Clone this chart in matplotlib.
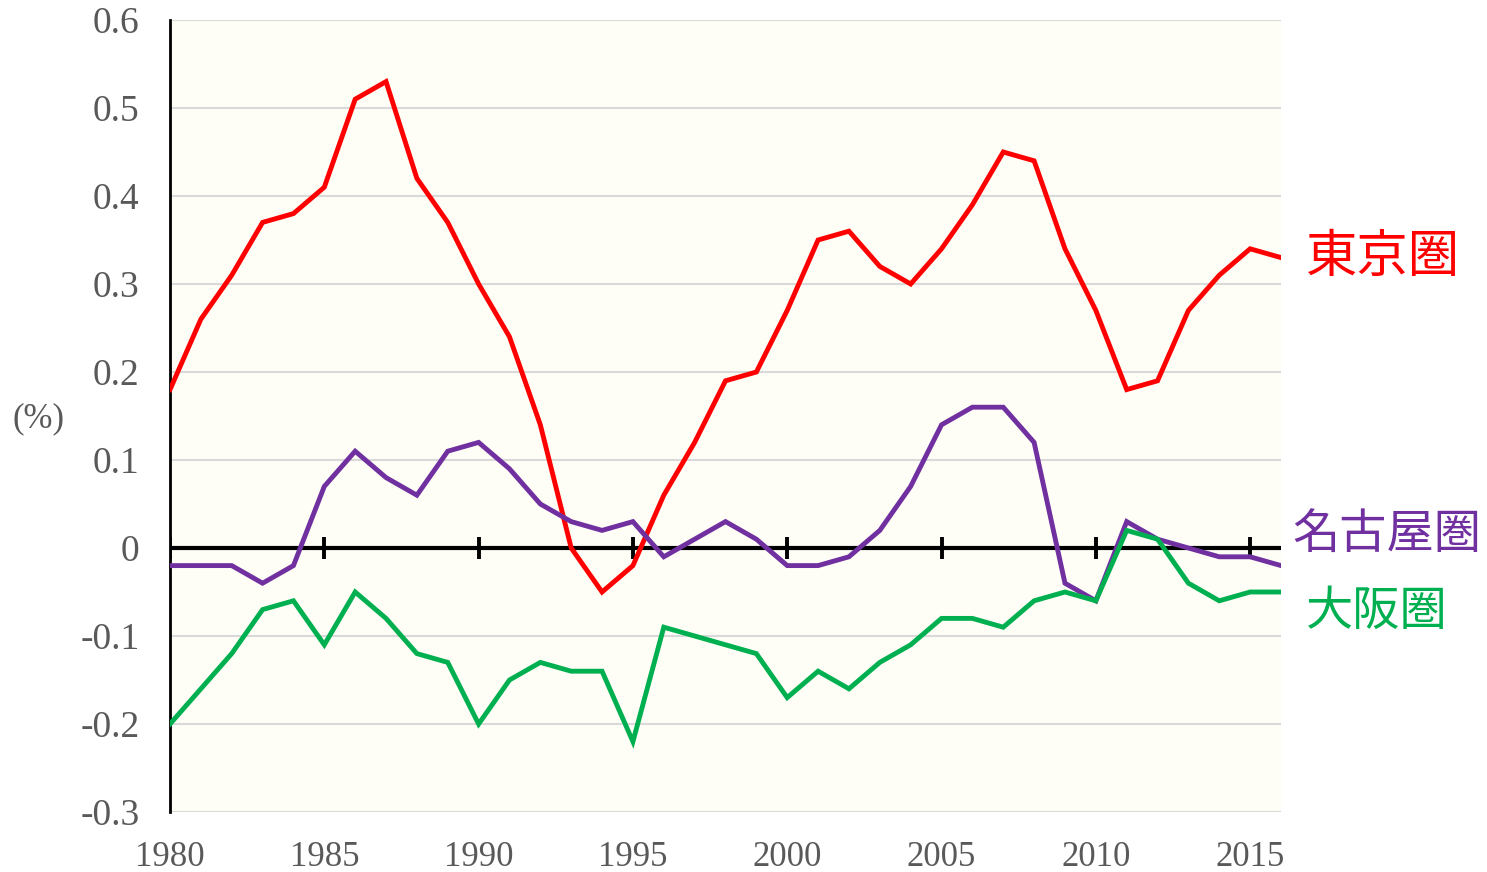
import matplotlib
matplotlib.use("Agg")
import matplotlib.pyplot as plt

# data
years = list(range(1980, 2017))
tokyo = [0.18, 0.26, 0.31, 0.37, 0.38, 0.41, 0.51, 0.53, 0.42, 0.37,
         0.30, 0.24, 0.14, 0.00, -0.05, -0.02, 0.06, 0.12, 0.19, 0.20,
         0.27, 0.35, 0.36, 0.32, 0.30, 0.34, 0.39, 0.45, 0.44, 0.34,
         0.27, 0.18, 0.19, 0.27, 0.31, 0.34, 0.33]
nagoya = [-0.02, -0.02, -0.02, -0.04, -0.02, 0.07, 0.11, 0.08, 0.06, 0.11,
          0.12, 0.09, 0.05, 0.03, 0.02, 0.03, -0.01, 0.01, 0.03, 0.01,
          -0.02, -0.02, -0.01, 0.02, 0.07, 0.14, 0.16, 0.16, 0.12, -0.04,
          -0.06, 0.03, 0.01, 0.00, -0.01, -0.01, -0.02]
osaka = [-0.20, -0.16, -0.12, -0.07, -0.06, -0.11, -0.05, -0.08, -0.12, -0.13,
         -0.20, -0.15, -0.13, -0.14, -0.14, -0.22, -0.09, -0.10, -0.11, -0.12,
         -0.17, -0.14, -0.16, -0.13, -0.11, -0.08, -0.08, -0.09, -0.06, -0.05,
         -0.06, 0.02, 0.01, -0.04, -0.06, -0.05, -0.05]

series_names = ["東京圏", "名古屋圏", "大阪圏"]
colors = ["#FF0000", "#7030A0", "#00B050"]

xticks = [1980, 1985, 1990, 1995, 2000, 2005, 2010, 2015]
yticks = [-0.3, -0.2, -0.1, 0, 0.1, 0.2, 0.3, 0.4, 0.5, 0.6]
ytick_labels = ["-0.3", "-0.2", "-0.1", "0", "0.1", "0.2", "0.3", "0.4", "0.5", "0.6"]

plt.rcParams['font.family'] = ['Liberation Serif', 'DejaVu Serif']

fig = plt.figure(figsize=(14.87, 8.72), dpi=100)
ax = fig.add_axes([170/1487, 60/872, 1111/1487, 792/872])
ax.set_facecolor("#FEFEF6")

ax.set_xlim(1980, 2016)
ax.set_ylim(-0.3, 0.6)

# grid
ax.set_yticks(yticks)
ax.set_yticklabels(ytick_labels)
ax.yaxis.grid(True, color="#D9D9D9", lw=1.5)
ax.set_axisbelow(True)

ax.set_xticks(xticks)
ax.set_xticklabels([str(x) for x in xticks])
ax.tick_params(axis='both', length=0, labelcolor="#595959")
ax.tick_params(axis='y', pad=22, labelsize=27)
ax.tick_params(axis='x', pad=21, labelsize=25)

for s in ["top", "right", "bottom"]:
    ax.spines[s].set_visible(False)
ax.spines["left"].set_linewidth(2)
ax.spines["left"].set_color("black")

# zero line with its own tick marks
ax.axhline(0, color="black", lw=3, zorder=2)
ax.vlines(xticks, -0.013, 0.013, color="black", lw=2.8, zorder=2)

all_series = [tokyo, nagoya, osaka]
label_offsets = [(18, 0), (8, 22), (18, -14)]
label_sizes = [37, 34, 34]
for vals, name, c, off, fs in zip(all_series, series_names, colors, label_offsets, label_sizes):
    ax.plot(years, vals, color=c, lw=3.5, zorder=3, solid_joinstyle='miter')
    ax.annotate(name, xy=(years[-1], vals[-1]), xytext=off, textcoords='offset points',
                color=c, fontsize=fs, va='center', ha='left',
                family=['Noto Sans CJK JP', 'DejaVu Sans'], annotation_clip=False)

fig.text(39/1487, 1 - 419/872, "(%)", fontsize=25, color="#595959", ha='center', va='center')

fig.savefig("out.png", dpi=100)
